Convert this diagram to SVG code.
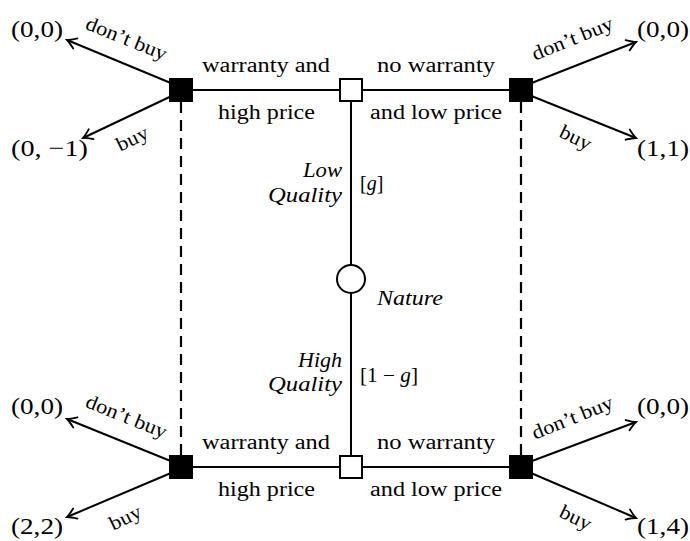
<svg xmlns="http://www.w3.org/2000/svg" width="690" height="541" viewBox="0 0 690 541">
<style>
text{font-family:"Liberation Serif","Times New Roman",serif;fill:#000;font-size:20px}
.pay{font-size:24px}
.it{font-style:italic;font-size:21px}
.ig{font-style:italic}
.edge{stroke:#000;stroke-width:2;fill:none}
.arr{stroke:#000;stroke-width:2;fill:none;marker-end:url(#ah)}
.dash{stroke:#000;stroke-width:2.2;fill:none;stroke-dasharray:11 7}
.dec{fill:#000;stroke:#000;stroke-width:2}
.unin{fill:#fff;stroke:#000;stroke-width:2}
</style>
<defs>
<marker id="ah" markerUnits="userSpaceOnUse" viewBox="-11 -7 13 14" markerWidth="13" markerHeight="14" refX="0" refY="0" orient="auto">
<path d="M-9,-5.5 Q-3,-1.2 0,0 Q-3,1.2 -9,5.5" fill="none" stroke="#000" stroke-width="1.8" stroke-linecap="round"/>
</marker>
</defs>
<g id="connectors">
<line class="edge" x1="181" y1="90" x2="521" y2="90"/>
<line class="edge" x1="181" y1="467" x2="521" y2="467"/>
<line class="edge" x1="351" y1="90" x2="351" y2="467"/>
<line class="dash" x1="181" y1="102" x2="181" y2="455"/>
<line class="dash" x1="521" y1="102" x2="521" y2="455"/>
<line class="arr" x1="178" y1="86" x2="67" y2="40"/>
<line class="arr" x1="178" y1="93" x2="83" y2="138"/>
<line class="arr" x1="524" y1="86" x2="636" y2="42"/>
<line class="arr" x1="524" y1="93" x2="636" y2="138"/>
<line class="arr" x1="178" y1="464" x2="67" y2="419"/>
<line class="arr" x1="178" y1="470" x2="67" y2="517"/>
<line class="arr" x1="524" y1="464" x2="636" y2="422"/>
<line class="arr" x1="524" y1="470" x2="636" y2="518"/>
</g>
<g id="buyer-top-left"><rect class="dec" x="170" y="79" width="22" height="22"/></g>
<g id="buyer-top-right"><rect class="dec" x="510" y="79" width="22" height="22"/></g>
<g id="buyer-bottom-left"><rect class="dec" x="170" y="456" width="22" height="22"/></g>
<g id="buyer-bottom-right"><rect class="dec" x="510" y="456" width="22" height="22"/></g>
<g id="seller-low"><rect class="unin" x="340" y="79" width="22" height="22"/></g>
<g id="seller-high"><rect class="unin" x="340" y="456" width="22" height="22"/></g>
<g id="nature"><circle class="unin" cx="351" cy="279" r="14"/><text class="it" x="377" y="305" textLength="66" lengthAdjust="spacingAndGlyphs">Nature</text></g>
<g id="labels">
<text x="202" y="72" textLength="128" lengthAdjust="spacingAndGlyphs">warranty and</text>
<text x="377" y="72" textLength="118" lengthAdjust="spacingAndGlyphs">no warranty</text>
<text x="218" y="119" textLength="97" lengthAdjust="spacingAndGlyphs">high price</text>
<text x="370" y="119" textLength="132" lengthAdjust="spacingAndGlyphs">and low price</text>
<text x="202" y="449" textLength="128" lengthAdjust="spacingAndGlyphs">warranty and</text>
<text x="377" y="449" textLength="118" lengthAdjust="spacingAndGlyphs">no warranty</text>
<text x="218" y="496" textLength="97" lengthAdjust="spacingAndGlyphs">high price</text>
<text x="370" y="496" textLength="132" lengthAdjust="spacingAndGlyphs">and low price</text>
<text class="it" x="303" y="177" textLength="39" lengthAdjust="spacingAndGlyphs">Low</text>
<text class="it" x="268" y="202" textLength="74" lengthAdjust="spacingAndGlyphs">Quality</text>
<text x="360" y="190">[<tspan class="ig">g</tspan>]</text>
<text class="it" x="298" y="367" textLength="44" lengthAdjust="spacingAndGlyphs">High</text>
<text class="it" x="268" y="391" textLength="74" lengthAdjust="spacingAndGlyphs">Quality</text>
<text x="360" y="382" textLength="58" lengthAdjust="spacingAndGlyphs">[1 − <tspan class="ig">g</tspan>]</text>
<text transform="translate(126,40) rotate(22)" x="0" y="5" text-anchor="middle" textLength="86" lengthAdjust="spacingAndGlyphs">don’t buy</text>
<text transform="translate(133,140) rotate(-26)" x="0" y="5" text-anchor="middle" textLength="33" lengthAdjust="spacingAndGlyphs">buy</text>
<text transform="translate(573,40) rotate(-22)" x="0" y="5" text-anchor="middle" textLength="86" lengthAdjust="spacingAndGlyphs">don’t buy</text>
<text transform="translate(575,139) rotate(26)" x="0" y="5" text-anchor="middle" textLength="33" lengthAdjust="spacingAndGlyphs">buy</text>
<text transform="translate(126,418) rotate(22)" x="0" y="5" text-anchor="middle" textLength="86" lengthAdjust="spacingAndGlyphs">don’t buy</text>
<text transform="translate(126,519) rotate(-26)" x="0" y="5" text-anchor="middle" textLength="33" lengthAdjust="spacingAndGlyphs">buy</text>
<text transform="translate(573,419) rotate(-22)" x="0" y="5" text-anchor="middle" textLength="86" lengthAdjust="spacingAndGlyphs">don’t buy</text>
<text transform="translate(575,519) rotate(26)" x="0" y="5" text-anchor="middle" textLength="33" lengthAdjust="spacingAndGlyphs">buy</text>
<text class="pay" x="11" y="37" textLength="52" lengthAdjust="spacingAndGlyphs">(0,0)</text>
<text class="pay" x="11" y="156" textLength="77" lengthAdjust="spacingAndGlyphs">(0, −1)</text>
<text class="pay" x="637" y="37" textLength="52" lengthAdjust="spacingAndGlyphs">(0,0)</text>
<text class="pay" x="637" y="156" textLength="52" lengthAdjust="spacingAndGlyphs">(1,1)</text>
<text class="pay" x="11" y="414" textLength="52" lengthAdjust="spacingAndGlyphs">(0,0)</text>
<text class="pay" x="11" y="534" textLength="52" lengthAdjust="spacingAndGlyphs">(2,2)</text>
<text class="pay" x="637" y="414" textLength="52" lengthAdjust="spacingAndGlyphs">(0,0)</text>
<text class="pay" x="637" y="534" textLength="52" lengthAdjust="spacingAndGlyphs">(1,4)</text>
</g>
</svg>
